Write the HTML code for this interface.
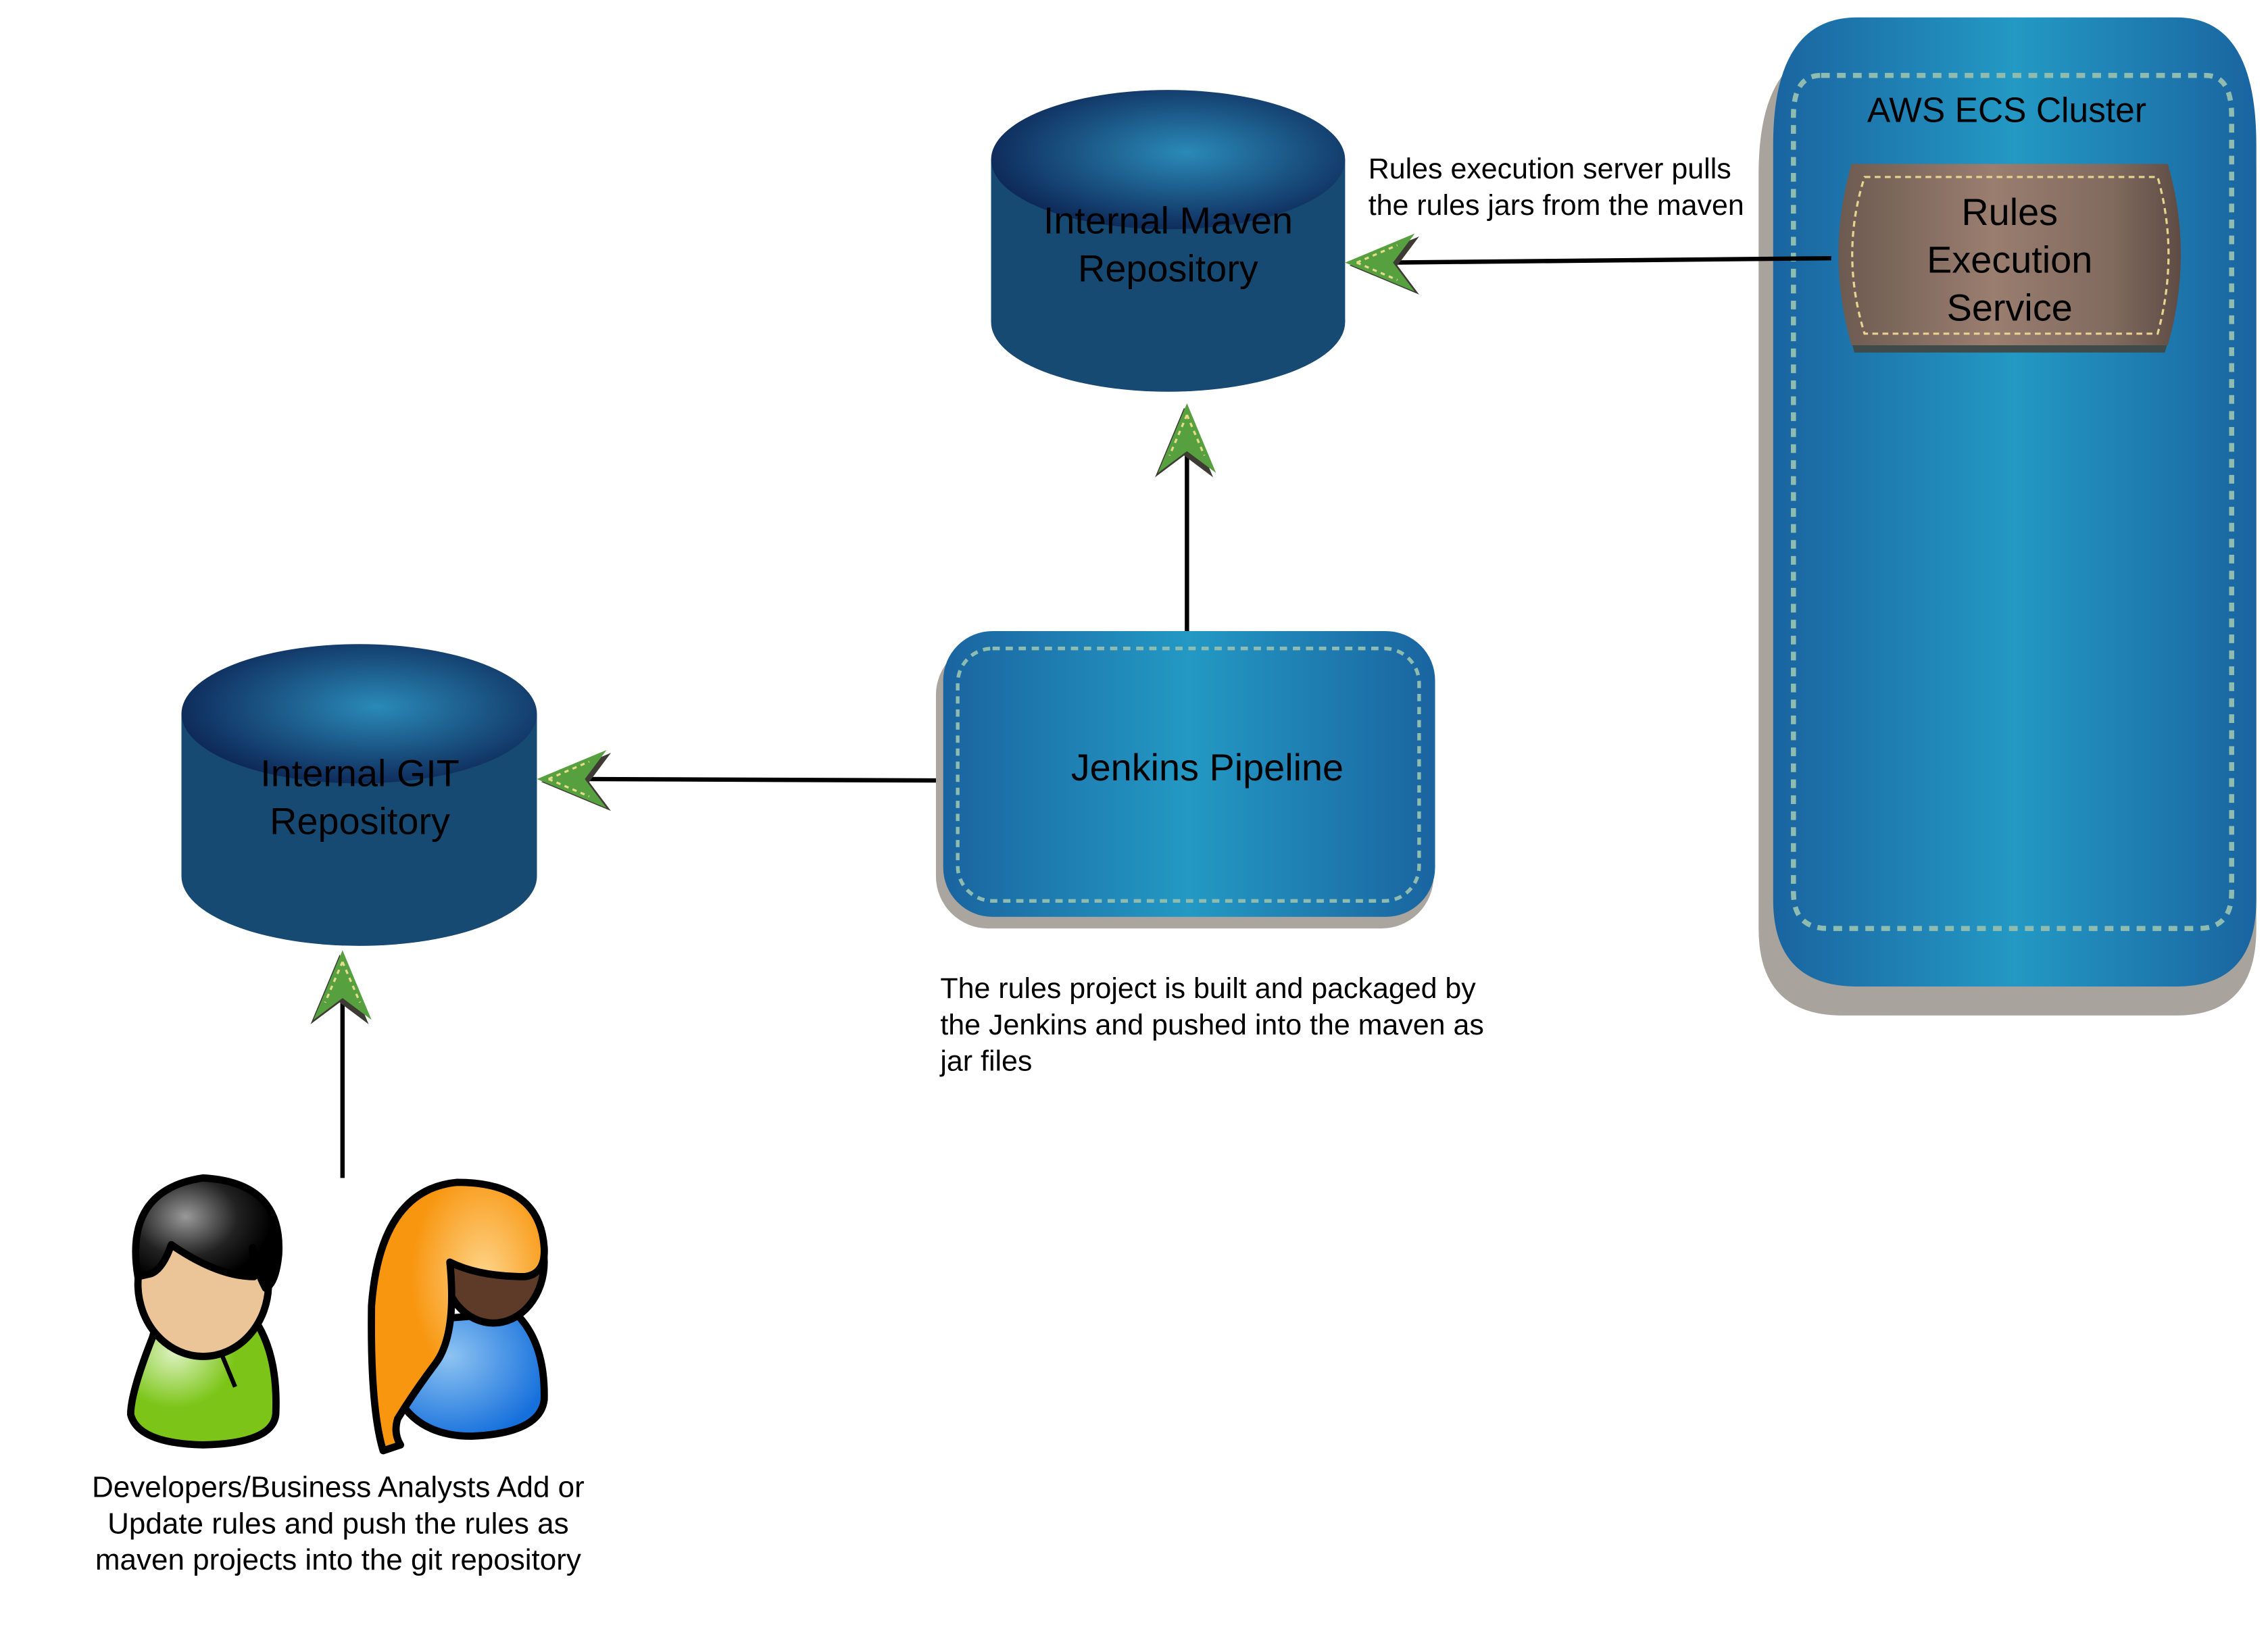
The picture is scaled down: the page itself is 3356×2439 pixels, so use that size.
<!DOCTYPE html>
<html><head><meta charset="utf-8"><style>
html,body{margin:0;padding:0;background:#fff;}
svg{display:block;}
text{font-family:"Liberation Sans",Arial,sans-serif;}
</style></head><body>
<svg width="3356" height="2439" viewBox="0 0 1563 1136" xmlns="http://www.w3.org/2000/svg">
<defs>
<radialGradient id="cylTop" cx="0.55" cy="0.45" r="0.6">
<stop offset="0" stop-color="#2a8ab8"/><stop offset="1" stop-color="#0c2454"/>
</radialGradient>
<linearGradient id="blueH" x1="0" x2="1" y1="0" y2="0">
<stop offset="0" stop-color="#1a64a0"/><stop offset="0.5" stop-color="#2399c4"/><stop offset="1" stop-color="#1a64a0"/>
</linearGradient>
<linearGradient id="brownH" x1="0" x2="1" y1="0" y2="0">
<stop offset="0" stop-color="#6c5a50"/><stop offset="0.45" stop-color="#9a7e70"/><stop offset="0.8" stop-color="#806a5e"/><stop offset="1" stop-color="#5e4c44"/>
</linearGradient>
<radialGradient id="hairM" cx="0.35" cy="0.35" r="0.6"><stop offset="0" stop-color="#999"/><stop offset="0.6" stop-color="#222"/><stop offset="1" stop-color="#000"/></radialGradient>
<radialGradient id="hairW" cx="0.65" cy="0.35" r="0.7"><stop offset="0" stop-color="#fed48a"/><stop offset="0.6" stop-color="#f8960f"/></radialGradient>
<radialGradient id="green" cx="0.3" cy="0.3" r="0.6"><stop offset="0" stop-color="#dcf2c0"/><stop offset="0.7" stop-color="#7cc518"/></radialGradient>
<radialGradient id="blue" cx="0.35" cy="0.35" r="0.7"><stop offset="0" stop-color="#8ec4f2"/><stop offset="1" stop-color="#1670dc"/></radialGradient>
<g id="ah">
<path d="M3,2 L51,-18 L36,2 L51,22 Z" fill="#3e3a34"/>
<path d="M0,0 L48,-20 L33,0 L48,20 Z" fill="#56a040"/>
<path d="M8,0 L36,-12 M8,0 L36,12" stroke="#e8dc8a" stroke-width="1.5" stroke-dasharray="3,3" fill="none"/>
</g>
</defs>

<!-- ECS cluster -->
<path d="M1272,32 L1500,32 Q1555,32 1555,120 L1555,640 Q1555,700 1500,700 L1270,700 Q1212,700 1212,640 L1212,120 Q1212,32 1272,32 Z" fill="#a8a39c"/>
<path d="M1280,12 L1500,12 Q1555,12 1555,100 L1555,620 Q1555,680 1500,680 L1280,680 Q1222,680 1222,620 L1222,100 Q1222,12 1280,12 Z" fill="url(#blueH)"/>
<path d="M1255,52 L1520,52 Q1538,52 1538,80 L1538,615 Q1538,640 1515,640 L1260,640 Q1236,640 1236,615 L1236,80 Q1236,52 1255,52 Z" fill="none" stroke="#8fbcb0" stroke-width="3.5" stroke-dasharray="6,5"/>
<text x="1383" y="84" font-size="24" text-anchor="middle" fill="#000">AWS ECS Cluster</text>

<!-- Rules execution service -->
<path d="M1278,120 L1492,120 Q1510,178 1492,243 L1278,243 Q1260,178 1278,120 Z" fill="#3f4a4a"/>
<path d="M1276,113 L1494,113 Q1512,175 1494,238 L1276,238 Q1258,175 1276,113 Z" fill="url(#brownH)"/>
<path d="M1285,122 L1487,122 Q1502,175 1487,230 L1285,230 Q1268,175 1285,122 Z" fill="none" stroke="#e8d490" stroke-width="1.5" stroke-dasharray="4,3"/>
<text font-size="26" text-anchor="middle" fill="#000"><tspan x="1385" y="155">Rules</tspan><tspan x="1385" y="188">Execution</tspan><tspan x="1385" y="221">Service</tspan></text>

<!-- Maven cylinder -->
<rect x="683" y="110" width="244" height="112" fill="#174a72"/>
<ellipse cx="805" cy="222" rx="122" ry="48" fill="#174a72"/>
<ellipse cx="805" cy="110" rx="122" ry="48" fill="url(#cylTop)"/>
<text font-size="26" text-anchor="middle" fill="#000"><tspan x="805" y="161">Internal Maven</tspan><tspan x="805" y="194">Repository</tspan></text>

<!-- GIT cylinder -->
<rect x="125" y="492" width="245" height="112" fill="#174a72"/>
<ellipse cx="247.5" cy="604" rx="122.5" ry="48" fill="#174a72"/>
<ellipse cx="247.5" cy="492" rx="122.5" ry="48" fill="url(#cylTop)"/>
<text font-size="26" text-anchor="middle" fill="#000"><tspan x="248" y="542">Internal GIT</tspan><tspan x="248" y="575">Repository</tspan></text>

<!-- Jenkins -->
<rect x="645" y="443" width="343" height="197" rx="36" fill="#aaa59e"/>
<rect x="650" y="435" width="339" height="197" rx="34" fill="url(#blueH)"/>
<rect x="660" y="447" width="318" height="174" rx="24" fill="none" stroke="#8fbcb0" stroke-width="2.5" stroke-dasharray="5,4"/>
<text x="832" y="538" font-size="26" text-anchor="middle" fill="#000">Jenkins Pipeline</text>

<!-- Connectors -->
<g stroke="#000" stroke-width="3" fill="none">
<line x1="818" y1="435" x2="818" y2="310"/>
<line x1="645" y1="538" x2="400" y2="537"/>
<line x1="236" y1="812" x2="236" y2="688"/>
<line x1="1262" y1="178" x2="958" y2="181"/>
</g>
<use href="#ah" transform="translate(927,181)"/>
<use href="#ah" transform="translate(370,537)"/>
<use href="#ah" transform="translate(818,278) rotate(90)"/>
<use href="#ah" transform="translate(236,655) rotate(90)"/>

<!-- Texts -->
<text font-size="20" fill="#000"><tspan x="943" y="123">Rules execution server pulls</tspan><tspan x="943" y="148">the rules jars from the maven</tspan></text>
<text font-size="20" fill="#000"><tspan x="648" y="688">The rules project is built and packaged by</tspan><tspan x="648" y="713">the Jenkins and pushed into the maven as</tspan><tspan x="648" y="738">jar files</tspan></text>
<text font-size="20.5" fill="#000" text-anchor="middle"><tspan x="233" y="1032">Developers/Business Analysts Add or</tspan><tspan x="233" y="1057">Update rules and push the rules as</tspan><tspan x="233" y="1082">maven projects into the git repository</tspan></text>

<!-- Man -->
<g stroke="#000" stroke-width="5" stroke-linejoin="round">
<path d="M105,922 Q90,960 90,975 Q95,995 140,996 Q188,995 190,975 Q192,930 172,905 L110,905 Z" fill="url(#green)"/>
<path d="M150,927 L162,956" fill="none" stroke-width="3"/>
<ellipse cx="140" cy="885" rx="45" ry="50" fill="#ebc498"/>
<path d="M95,880 Q85,820 140,812 Q195,815 192,865 Q190,885 183,888 Q176,875 174,860 L175,880 Q150,880 118,858 Q112,875 104,878 Z" fill="url(#hairM)"/>
</g>
<!-- Woman -->
<g stroke="#000" stroke-width="5" stroke-linejoin="round">
<path d="M290,910 Q270,950 275,965 Q290,990 325,990 Q372,988 375,965 Q376,925 355,905 Z" fill="url(#blue)"/>
<ellipse cx="340" cy="870" rx="35" ry="42" fill="#5e3a28"/>
<path d="M264,1000 Q255,970 256,900 Q262,820 315,815 Q372,815 375,860 Q376,878 362,880 Q330,880 310,870 Q315,920 300,940 Q285,960 274,978 Q271,988 276,996 Z" fill="url(#hairW)"/>
</g>
</svg>
</body></html>
